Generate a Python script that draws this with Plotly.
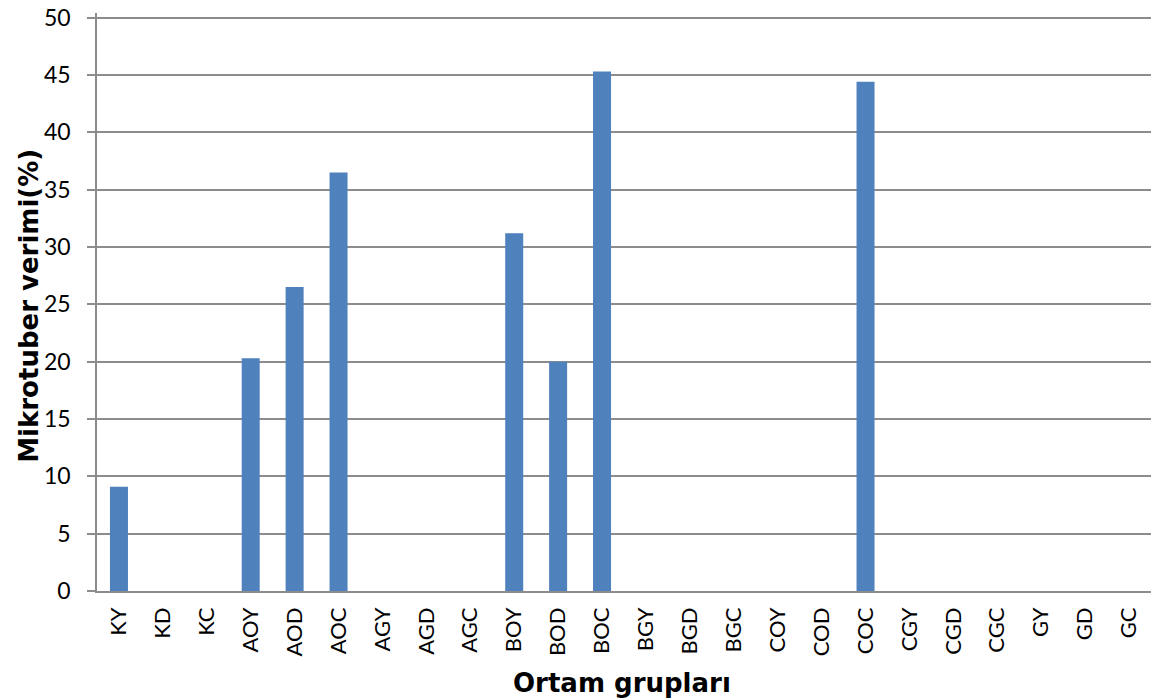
import plotly.graph_objects as go

categories = ["KY", "KD", "KC", "AOY", "AOD", "AOC", "AGY", "AGD", "AGC",
              "BOY", "BOD", "BOC", "BGY", "BGD", "BGC", "COY", "COD", "COC",
              "CGY", "CGD", "CGC", "GY", "GD", "GC"]
values = [9.1, 0, 0, 20.3, 26.5, 36.5, 0, 0, 0,
          31.2, 20.0, 45.3, 0, 0, 0, 0, 0, 44.4,
          0, 0, 0, 0, 0, 0]
y_ticks = [0, 5, 10, 15, 20, 25, 30, 35, 40, 45, 50]

fig = go.Figure(go.Bar(
    x=categories, y=values,
    marker=dict(color="#4F81BD", line=dict(width=0)),
))

YMAX = 50.4  # a little headroom so the 50 gridline is drawn
PXU = 573 / 50  # pixels per unit in the reference
W, H = 1157, 700
PX0, PX1, PY1 = 97, 1151, 591
PY0 = PY1 - YMAX * PXU
ML, MT = PX0, PY0
MR, MB = W - PX1, H - PY1
PW, PH = PX1 - PX0, PY1 - PY0

fig.update_layout(
    width=W, height=H,
    margin=dict(l=ML, r=MR, t=MT, b=MB, autoexpand=False),
    paper_bgcolor="white", plot_bgcolor="white",
    bargap=0.59,
    showlegend=False,
    font=dict(family="Lato, Open Sans, sans-serif", color="black"),
    annotations=[
        dict(text="<b>Mikrotuber verimi(%)</b>", xref="paper", yref="paper",
             x=(29 - PX0) / PW, y=(PY1 - 306) / PH, textangle=-90,
             showarrow=False, xanchor="center", yanchor="middle",
             font=dict(size=26, family="DejaVu Sans", color="black")),
        dict(text="<b>Ortam grupları</b>", xref="paper", yref="paper",
             x=(622 - PX0) / PW, y=(PY1 - 683) / PH,
             showarrow=False, xanchor="center", yanchor="middle",
             font=dict(size=26, family="DejaVu Sans", color="black")),
    ],
)
fig.update_yaxes(
    range=[0, YMAX], tickvals=y_ticks, automargin=False,
    showgrid=True, gridcolor="#8C8C8C", gridwidth=1.5,
    showline=True, linecolor="#8C8C8C", linewidth=1.5,
    ticks="outside", ticklen=8, tickcolor="#8C8C8C", tickwidth=1.5,
    tickfont=dict(size=23, family="Lato, Open Sans, sans-serif"),
    ticklabelstandoff=12,
    zeroline=False,
)
fig.update_xaxes(
    automargin=False,
    showline=True, linecolor="#8C8C8C", linewidth=1.5,
    ticks="", tickangle=-90,
    tickfont=dict(size=22, family="Lato, Open Sans, sans-serif"),
    ticklabelstandoff=6,
)

fig.write_html("out.html",
               config={"displayModeBar": False},
               post_script="document.body.style.margin='0';")
